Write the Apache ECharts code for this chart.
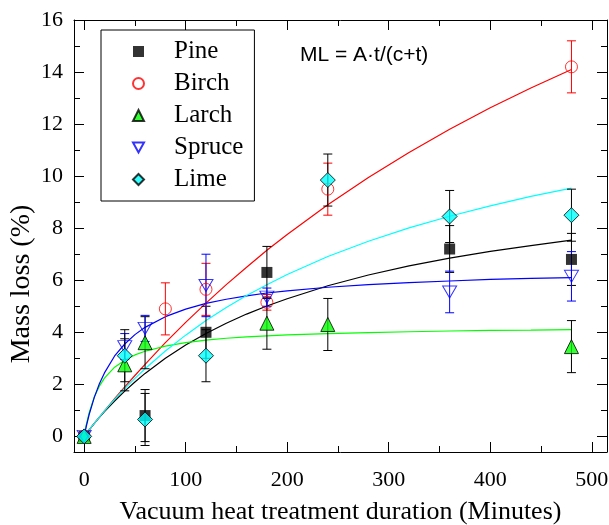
<!DOCTYPE html>
<html><head><meta charset="utf-8">
<script src="https://cdn.jsdelivr.net/npm/echarts@6/dist/echarts.min.js"></script>
<style>html,body{margin:0;padding:0;background:#fff}#c{width:609px;height:525px}</style>
</head><body><div id="c"></div>
<script>
// ---- tick labels ----
const xTicks = [0, 100, 200, 300, 400, 500];
const xMinorTicks = [50, 150, 250, 350, 450];
const yTicks = [0, 2, 4, 6, 8, 10, 12, 14, 16];
const yMinorTicks = [1, 3, 5, 7, 9, 11, 13, 15];
const speciesNames = ['Pine', 'Birch', 'Larch', 'Spruce', 'Lime'];

// ---- measured points (t in minutes, ML in %, error) ----
const pineT = [0, 60, 120, 180, 360, 480];
const pineML = [0, 0.8, 4.0, 6.3, 7.2, 6.8];
const pineErr = [0, 1.0, 1.0, 1.0, 0.9, 1.0];

const birchT = [0, 80, 120, 180, 240, 480];
const birchML = [0, 4.9, 5.65, 5.15, 9.5, 14.2];
const birchErr = [0, 1.0, 1.0, 0.3, 1.0, 1.0];

const larchT = [0, 40, 60, 180, 240, 480];
const larchML = [0, 2.75, 3.6, 4.35, 4.3, 3.45];
const larchErr = [0, 1.0, 1.0, 1.0, 1.0, 1.0];

const spruceT = [0, 40, 60, 120, 180, 360, 480];
const spruceML = [0, 3.45, 4.15, 5.8, 5.35, 5.55, 6.15];
const spruceErr = [0, 0.5, 0.5, 1.2, 0.35, 0.8, 0.95];

const limeT = [0, 40, 60, 120, 240, 360, 480];
const limeML = [0, 3.1, 0.65, 3.1, 9.85, 8.45, 8.5];
const limeErr = [0, 1.0, 1.0, 1.0, 1.0, 1.0, 1.0];

// ---- fitted curves ----
const fitT = [0, 2, 5, 10, 15, 20, 30, 40, 50, 60, 80, 100, 120, 140, 160, 180, 200, 240, 280, 320, 360, 400, 440, 480];
const pineFit = [0, 0.10, 0.25, 0.50, 0.73, 0.95, 1.36, 1.74, 2.09, 2.42, 3.00, 3.51, 3.95, 4.35, 4.70, 5.01, 5.29, 5.79, 6.20, 6.55, 6.85, 7.11, 7.33, 7.54];
const birchFit = [0, 0.10, 0.25, 0.50, 0.74, 0.98, 1.45, 1.90, 2.34, 2.77, 3.60, 4.38, 5.12, 5.83, 6.50, 7.15, 7.76, 8.90, 9.95, 10.91, 11.80, 12.63, 13.39, 14.10];
const larchFit = [0, 0.43, 0.92, 1.52, 1.93, 2.24, 2.66, 2.93, 3.13, 3.27, 3.47, 3.60, 3.70, 3.77, 3.82, 3.86, 3.90, 3.95, 3.99, 4.02, 4.05, 4.07, 4.08, 4.10];
const spruceFit = [0, 0.37, 0.85, 1.50, 2.02, 2.44, 3.09, 3.55, 3.91, 4.19, 4.60, 4.89, 5.11, 5.27, 5.40, 5.51, 5.59, 5.73, 5.83, 5.91, 5.97, 6.03, 6.07, 6.10];
const limeFit = [0, 0.10, 0.26, 0.50, 0.74, 0.98, 1.42, 1.84, 2.23, 2.60, 3.28, 3.89, 4.45, 4.95, 5.41, 5.83, 6.22, 6.91, 7.50, 8.01, 8.46, 8.86, 9.22, 9.54];

const annotation = 'ML = A\u00B7t/(c+t)';
const xTitle = 'Vacuum heat treatment duration (Minutes)';
const yTitle = 'Mass loss (%)';

const SERIF = 'Liberation Serif';
const SANS = 'Liberation Sans';

const XMIN = -10, XMAX = 515, YMIN = -0.6, YMAX = 16;

function xAxisDef(pos, ticks, len, main, showLine) {
  return {
    type: 'value', min: XMIN, max: XMAX, position: pos, gridIndex: 0,
    axisLine: { show: showLine, onZero: false, lineStyle: { color: '#000', width: 1 } },
    axisTick: { show: true, inside: true, length: len, customValues: ticks, lineStyle: { color: '#000', width: 1 } },
    axisLabel: main ? { show: true, customValues: ticks, fontFamily: SERIF, fontSize: 22, color: '#000', margin: 17 } : { show: false },
    splitLine: { show: false },
    name: main ? xTitle : '', nameLocation: 'middle', nameGap: 47,
    nameTextStyle: { fontFamily: SERIF, fontSize: 26, color: '#000' }
  };
}
function yAxisDef(pos, ticks, len, main, showLine) {
  return {
    type: 'value', min: YMIN, max: YMAX, position: pos, gridIndex: 0, offset: 0,
    axisLine: { show: showLine, onZero: false, lineStyle: { color: '#000', width: 1 } },
    axisTick: { show: true, inside: true, length: len, customValues: ticks, lineStyle: { color: '#000', width: 1 } },
    axisLabel: main ? { show: true, customValues: ticks, fontFamily: SERIF, fontSize: 22, color: '#000', margin: 11 } : { show: false },
    splitLine: { show: false }
  };
}

function errSeries(name, t, v, e, color) {
  return {
    type: 'custom', name: name + ' err', xAxisIndex: 0, yAxisIndex: 0, z: 3, silent: true, clip: false,
    encode: { x: 0, y: 1 },
    data: t.map((x, i) => [x, v[i], e[i]]),
    renderItem: function (params, api) {
      const x = api.value(0), y = api.value(1), d = api.value(2);
      if (!d) return { type: 'group', children: [] };
      const top = api.coord([x, y + d]), bot = api.coord([x, y - d]);
      const w = 4.5;
      const style = { stroke: color, lineWidth: 1 };
      return {
        type: 'group', children: [
          { type: 'line', shape: { x1: top[0], y1: top[1], x2: bot[0], y2: bot[1] }, style: style },
          { type: 'line', shape: { x1: top[0] - w, y1: top[1], x2: top[0] + w, y2: top[1] }, style: style },
          { type: 'line', shape: { x1: bot[0] - w, y1: bot[1], x2: bot[0] + w, y2: bot[1] }, style: style }
        ]
      };
    }
  };
}
function fitSeries(name, vals, color) {
  return {
    type: 'line', name: name + ' fit', xAxisIndex: 0, yAxisIndex: 0, z: 2, silent: true,
    data: fitT.map((x, i) => [x, vals[i]]),
    showSymbol: false, symbol: 'none', smooth: false,
    lineStyle: { color: color, width: 1.2 }
  };
}
function ptSeries(name, t, v, symbol, size, style) {
  return {
    type: 'scatter', name: name, xAxisIndex: 0, yAxisIndex: 0, z: 5, clip: false,
    data: t.map((x, i) => [x, v[i]]),
    symbol: symbol, symbolSize: size, itemStyle: style
  };
}

const downTri = 'path://M0,0L10,0L5,9Z';

const option = {
  animation: false,
  backgroundColor: '#fff',
  grid: { left: 74, top: 20, width: 533, height: 432, containLabel: false, outerBoundsMode: 'none' },
  xAxis: [
    xAxisDef('bottom', xTicks, 10, true, true),
    xAxisDef('bottom', xMinorTicks, 6, false, false),
    xAxisDef('top', xTicks, 10, false, true),
    xAxisDef('top', xMinorTicks, 6, false, false)
  ],
  yAxis: [
    yAxisDef('left', yTicks, 10, true, true),
    yAxisDef('left', yMinorTicks, 6, false, false),
    yAxisDef('right', yTicks, 10, false, true),
    yAxisDef('right', yMinorTicks, 6, false, false)
  ],
  legend: {
    data: speciesNames, orient: 'vertical', left: 101, top: 30,
    padding: [9, 11, 9, 31], itemGap: 7, itemWidth: 11, itemHeight: 11,
    borderColor: '#000', borderWidth: 1, backgroundColor: '#fff', selectedMode: false,
    textStyle: { fontFamily: SERIF, fontSize: 25, lineHeight: 25, color: '#000', padding: [0, 0, 0, 25] }
  },
  graphic: [
    { type: 'text', left: 300, top: 45, style: { text: annotation, font: '21px "' + SANS + '"', fill: '#000' } },
    { type: 'text', x: 22, y: 284, rotation: Math.PI / 2,
      style: { text: yTitle, font: '28px "' + SERIF + '"', fill: '#000', align: 'center', verticalAlign: 'middle' } }
  ],
  series: [
    fitSeries('Pine', pineFit, '#000000'),
    fitSeries('Birch', birchFit, '#ff0000'),
    fitSeries('Larch', larchFit, '#00ff00'),
    fitSeries('Spruce', spruceFit, '#0000ff'),
    fitSeries('Lime', limeFit, '#00ffff'),
    errSeries('Pine', pineT, pineML, pineErr, '#000'),
    errSeries('Birch', birchT, birchML, birchErr, '#ff0000'),
    errSeries('Larch', larchT, larchML, larchErr, '#000'),
    errSeries('Spruce', spruceT, spruceML, spruceErr, '#0000ff'),
    errSeries('Lime', limeT, limeML, limeErr, '#000'),
    ptSeries('Pine', pineT, pineML, 'rect', 11, { color: '#000' }),
    ptSeries('Birch', birchT, birchML, 'circle', 12, { color: 'rgba(255,255,255,0)', borderColor: '#ff0000', borderWidth: 1 }),
    ptSeries('Larch', larchT, larchML, 'triangle', 14, { color: '#00ff00', borderColor: '#000', borderWidth: 1 }),
    ptSeries('Spruce', spruceT, spruceML, downTri, [14, 12], { color: 'rgba(255,255,255,0)', borderColor: '#0000ff', borderWidth: 1 }),
    ptSeries('Lime', limeT, limeML, 'diamond', 15, { color: '#00ffff', borderColor: '#000', borderWidth: 1 })
  ]
};
const chart = echarts.init(document.getElementById('c'), null, { renderer: 'canvas' });
chart.setOption(option);
</script>
</body></html>
